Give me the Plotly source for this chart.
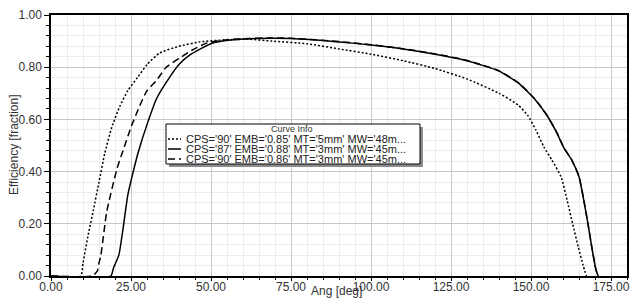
import plotly.graph_objects as go

# ---- data ----
series_names = [
    "CPS='90' EMB='0.85' MT='5mm' MW='48m...",
    "CPS='87' EMB='0.88' MT='3mm' MW='45m...",
    "CPS='90' EMB='0.86' MT='3mm' MW='45m...",
]

ang_dot = [0, 9.3, 10.0, 11.5, 13.2, 15.0, 16.8, 19.0, 21.5, 24.0, 27.0, 30.0, 34.0, 40.0, 46.5,
           55.0, 62.0, 69.0, 80.0, 90.0, 100.0, 110.0, 120.0, 130.0, 140.0, 146.0, 149.0,
           151.5, 154.0, 156.5, 159.4, 161.3, 163.0, 164.8, 166.3, 167.3]
eff_dot = [0, 0, 0.05, 0.15, 0.25, 0.36, 0.47, 0.57, 0.65, 0.71, 0.76, 0.81, 0.855, 0.88, 0.897,
           0.905, 0.907, 0.90, 0.89, 0.87, 0.85, 0.825, 0.795, 0.755, 0.70, 0.655, 0.615,
           0.56, 0.495, 0.445, 0.38, 0.29, 0.20, 0.11, 0.04, 0.0]

ang_sol = [0, 18.7, 19.5, 21.2, 22.5, 24.0, 25.7, 27.4, 30.0, 33.0, 37.0, 40.0, 43.4, 50.5,
           57.0, 64.0, 75.0, 90.0, 100.0, 110.0, 120.0, 130.0, 140.0, 146.0, 151.0, 155.0,
           158.0, 160.3, 162.7, 165.0, 166.5, 167.8, 169.0, 170.3, 171.0]
eff_sol = [0, 0, 0.03, 0.08, 0.18, 0.31, 0.40, 0.48, 0.58, 0.68, 0.76, 0.81, 0.847, 0.893,
           0.905, 0.91, 0.91, 0.897, 0.885, 0.87, 0.85, 0.825, 0.785, 0.74, 0.68, 0.615,
           0.55, 0.49, 0.445, 0.38, 0.29, 0.20, 0.11, 0.023, 0.0]

ang_dash = [0, 13.0, 14.5, 15.0, 15.6, 17.4, 20.6, 22.5, 25.0, 28.0, 30.0, 33.0, 36.0, 40.2,
            44.0, 48.7, 55.0, 62.0, 68.0, 75.0, 90.0, 100.0, 110.0, 120.0, 130.0, 140.0,
            146.0, 151.0, 155.0, 158.0, 160.3, 162.7, 165.0, 166.5, 167.8, 169.0, 170.3, 171.0]
eff_dash = [0, 0, 0.02, 0.05, 0.08, 0.245, 0.41, 0.48, 0.57, 0.66, 0.71, 0.75, 0.80, 0.835,
            0.865, 0.893, 0.905, 0.91, 0.912, 0.911, 0.898, 0.886, 0.871, 0.851, 0.826, 0.786,
            0.741, 0.681, 0.616, 0.551, 0.491, 0.446, 0.381, 0.291, 0.201, 0.111, 0.024, 0.0]

x_ticks = [0, 25, 50, 75, 100, 125, 150, 175]
y_ticks = [0, 0.2, 0.4, 0.6, 0.8, 1.0]

dashes = ["2px,2px", "solid", "7px,4px"]
xs = [ang_dot, ang_sol, ang_dash]
ys = [eff_dot, eff_sol, eff_dash]

FONT = "Liberation Sans, Arial, sans-serif"

fig = go.Figure()
for name, x, y, d in zip(series_names, xs, ys, dashes):
    fig.add_trace(go.Scatter(x=x, y=y, mode="lines", name=name,
                             line=dict(color="black", width=1.5, dash=d, shape="spline", smoothing=0.5),
                             showlegend=False, cliponaxis=True))

# plot area in pixels: x 51..627, y 15..276
L, R, T, B = 51, 3, 15, 22
W, H = 630, 298
pw, ph = W - L - R, H - T - B

def px(x):
    return (x - L) / pw

def py(y):
    return (H - B - y) / ph

# legend box (manual)
bx0, bx1, by0, by1 = 166, 420, 124, 164
shapes = [
    dict(type="rect", xref="paper", yref="paper", x0=px(bx0 + 3), x1=px(bx1 + 3),
         y0=py(by1 + 3), y1=py(by0 + 3), fillcolor="#8c8c8c", line=dict(width=0), layer="above"),
    dict(type="rect", xref="paper", yref="paper", x0=px(bx0), x1=px(bx1),
         y0=py(by1), y1=py(by0), fillcolor="white", line=dict(color="black", width=1), layer="above"),
]
annotations = [
    dict(text="Curve Info", xref="paper", yref="paper", x=px(292), y=py(129),
         showarrow=False, font=dict(family=FONT, size=9, color="#333"), xanchor="center", yanchor="middle"),
    dict(text="Ang [deg]", xref="paper", yref="paper", x=px(336), y=py(291),
         showarrow=False, font=dict(family=FONT, size=12, color="#333"), xanchor="center", yanchor="middle"),
    dict(text="Efficiency [fraction]", xref="paper", yref="paper", x=px(14), y=py(145),
         textangle=-90, showarrow=False, font=dict(family=FONT, size=12, color="#333"),
         xanchor="center", yanchor="middle"),
]
row_y = [139, 149, 159]
for name, d, ry in zip(series_names, dashes, row_y):
    shapes.append(dict(type="line", xref="paper", yref="paper", x0=px(168), x1=px(181),
                       y0=py(ry), y1=py(ry), line=dict(color="black", width=1.5, dash=d), layer="above"))
    annotations.append(dict(text=name, xref="paper", yref="paper", x=px(184), y=py(ry),
                            showarrow=False, xanchor="left", yanchor="middle",
                            font=dict(family=FONT, size=11, color="#222")))

fig.update_layout(
    width=W, height=H,
    margin=dict(l=L, r=R, t=T, b=B, pad=0),
    paper_bgcolor="white", plot_bgcolor="white",
    font=dict(family=FONT, size=12, color="#333"),
    shapes=shapes, annotations=annotations,
    xaxis=dict(range=[0, 180], tickvals=x_ticks, ticktext=[f"{v:.2f}" for v in x_ticks],
               automargin=False, ticklabelstandoff=-4,
               showgrid=True, gridcolor="#c8c8c8", gridwidth=1,
               showline=True, linecolor="black", linewidth=1.5, mirror=True,
               ticks="outside", ticklen=3, tickcolor="black", zeroline=False,
               minor=dict(dtick=5, tick0=0, showgrid=True, gridcolor="#ececec",
                          ticks="outside", ticklen=2, tickcolor="black"),
               tickfont=dict(size=12, color="#333")),
    yaxis=dict(range=[0, 1], tickvals=y_ticks, ticktext=[f"{v:.2f}" for v in y_ticks],
               automargin=False,
               showgrid=True, gridcolor="#c8c8c8", gridwidth=1,
               showline=True, linecolor="black", linewidth=1.5, mirror=True,
               ticks="outside", ticklen=5, tickcolor="black", zeroline=False,
               minor=dict(dtick=0.04, tick0=0, showgrid=True, gridcolor="#ececec",
                          ticks="outside", ticklen=3, tickcolor="black"),
               tickfont=dict(size=12, color="#333")),
)

fig.write_html("out.html", config={"displayModeBar": False},
               post_script="document.body.style.margin='0px';document.body.style.padding='0px';")
